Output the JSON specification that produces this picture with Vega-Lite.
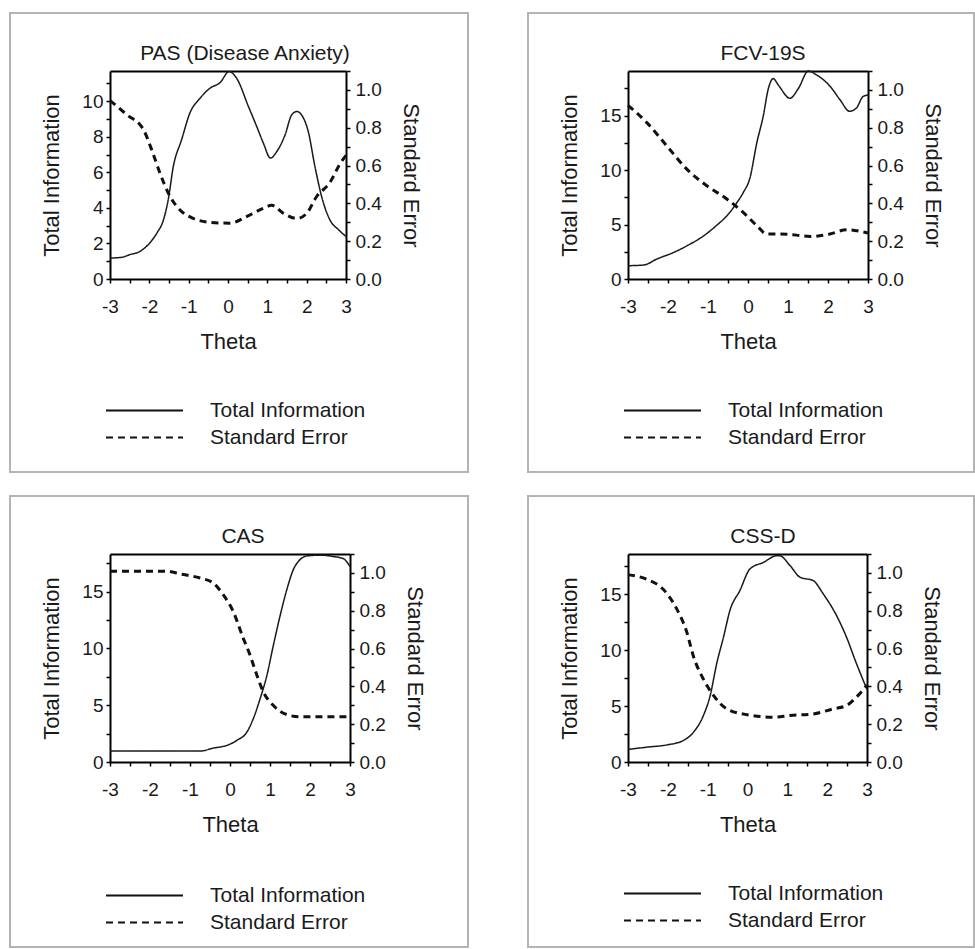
{
 "$schema": "https://vega.github.io/schema/vega-lite/v6.json",
 "padding": {"left": 9, "top": 12, "right": 0, "bottom": 0},
 "autosize": {"type": "pad"},
 "background": "white",
 "data": {"values": [
  {"panel":"PAS","series":"Total Information","theta":-3,"value":1.18},
  {"panel":"PAS","series":"Total Information","theta":-2.7,"value":1.22},
  {"panel":"PAS","series":"Total Information","theta":-2.5,"value":1.37},
  {"panel":"PAS","series":"Total Information","theta":-2.24,"value":1.55},
  {"panel":"PAS","series":"Total Information","theta":-2.03,"value":1.93},
  {"panel":"PAS","series":"Total Information","theta":-1.81,"value":2.58},
  {"panel":"PAS","series":"Total Information","theta":-1.64,"value":3.33},
  {"panel":"PAS","series":"Total Information","theta":-1.52,"value":4.46},
  {"panel":"PAS","series":"Total Information","theta":-1.39,"value":6.33},
  {"panel":"PAS","series":"Total Information","theta":-1.18,"value":7.83},
  {"panel":"PAS","series":"Total Information","theta":-0.97,"value":9.33},
  {"panel":"PAS","series":"Total Information","theta":-0.71,"value":10.17},
  {"panel":"PAS","series":"Total Information","theta":-0.46,"value":10.73},
  {"panel":"PAS","series":"Total Information","theta":-0.2,"value":11.05},
  {"panel":"PAS","series":"Total Information","theta":0.03,"value":11.67},
  {"panel":"PAS","series":"Total Information","theta":0.22,"value":11.29},
  {"panel":"PAS","series":"Total Information","theta":0.52,"value":9.7},
  {"panel":"PAS","series":"Total Information","theta":0.73,"value":8.58},
  {"panel":"PAS","series":"Total Information","theta":0.9,"value":7.64},
  {"panel":"PAS","series":"Total Information","theta":1.08,"value":6.8},
  {"panel":"PAS","series":"Total Information","theta":1.24,"value":7.17},
  {"panel":"PAS","series":"Total Information","theta":1.45,"value":8.1},
  {"panel":"PAS","series":"Total Information","theta":1.62,"value":9.23},
  {"panel":"PAS","series":"Total Information","theta":1.75,"value":9.42},
  {"panel":"PAS","series":"Total Information","theta":1.87,"value":9.23},
  {"panel":"PAS","series":"Total Information","theta":2.04,"value":8.3},
  {"panel":"PAS","series":"Total Information","theta":2.21,"value":6.33},
  {"panel":"PAS","series":"Total Information","theta":2.38,"value":4.64},
  {"panel":"PAS","series":"Total Information","theta":2.59,"value":3.33},
  {"panel":"PAS","series":"Total Information","theta":2.81,"value":2.77},
  {"panel":"PAS","series":"Total Information","theta":3,"value":2.4},
  {"panel":"PAS","series":"Standard Error","theta":-3,"value":0.944},
  {"panel":"PAS","series":"Standard Error","theta":-2.58,"value":0.87},
  {"panel":"PAS","series":"Standard Error","theta":-2.15,"value":0.79},
  {"panel":"PAS","series":"Standard Error","theta":-1.9,"value":0.66},
  {"panel":"PAS","series":"Standard Error","theta":-1.73,"value":0.56},
  {"panel":"PAS","series":"Standard Error","theta":-1.47,"value":0.435},
  {"panel":"PAS","series":"Standard Error","theta":-1.22,"value":0.365},
  {"panel":"PAS","series":"Standard Error","theta":-0.88,"value":0.32},
  {"panel":"PAS","series":"Standard Error","theta":-0.46,"value":0.3},
  {"panel":"PAS","series":"Standard Error","theta":0.05,"value":0.295},
  {"panel":"PAS","series":"Standard Error","theta":0.47,"value":0.33},
  {"panel":"PAS","series":"Standard Error","theta":0.9,"value":0.374},
  {"panel":"PAS","series":"Standard Error","theta":1.11,"value":0.39},
  {"panel":"PAS","series":"Standard Error","theta":1.41,"value":0.347},
  {"panel":"PAS","series":"Standard Error","theta":1.75,"value":0.32},
  {"panel":"PAS","series":"Standard Error","theta":2,"value":0.347},
  {"panel":"PAS","series":"Standard Error","theta":2.25,"value":0.435},
  {"panel":"PAS","series":"Standard Error","theta":2.59,"value":0.51},
  {"panel":"PAS","series":"Standard Error","theta":2.85,"value":0.61},
  {"panel":"PAS","series":"Standard Error","theta":3,"value":0.654},
  {"panel":"FCV","series":"Total Information","theta":-3,"value":1.22},
  {"panel":"FCV","series":"Total Information","theta":-2.61,"value":1.28},
  {"panel":"FCV","series":"Total Information","theta":-2.28,"value":1.83},
  {"panel":"FCV","series":"Total Information","theta":-1.86,"value":2.44},
  {"panel":"FCV","series":"Total Information","theta":-1.45,"value":3.2},
  {"panel":"FCV","series":"Total Information","theta":-1.11,"value":3.96},
  {"panel":"FCV","series":"Total Information","theta":-0.78,"value":4.94},
  {"panel":"FCV","series":"Total Information","theta":-0.53,"value":5.79},
  {"panel":"FCV","series":"Total Information","theta":-0.28,"value":7.0},
  {"panel":"FCV","series":"Total Information","theta":-0.12,"value":7.93},
  {"panel":"FCV","series":"Total Information","theta":0.05,"value":9.3},
  {"panel":"FCV","series":"Total Information","theta":0.22,"value":12.5},
  {"panel":"FCV","series":"Total Information","theta":0.38,"value":14.94},
  {"panel":"FCV","series":"Total Information","theta":0.51,"value":17.5},
  {"panel":"FCV","series":"Total Information","theta":0.63,"value":18.4},
  {"panel":"FCV","series":"Total Information","theta":0.76,"value":17.8},
  {"panel":"FCV","series":"Total Information","theta":1.05,"value":16.6},
  {"panel":"FCV","series":"Total Information","theta":1.26,"value":17.5},
  {"panel":"FCV","series":"Total Information","theta":1.51,"value":19.1},
  {"panel":"FCV","series":"Total Information","theta":1.71,"value":18.75},
  {"panel":"FCV","series":"Total Information","theta":2.05,"value":17.7},
  {"panel":"FCV","series":"Total Information","theta":2.3,"value":16.46},
  {"panel":"FCV","series":"Total Information","theta":2.54,"value":15.4},
  {"panel":"FCV","series":"Total Information","theta":2.71,"value":15.7},
  {"panel":"FCV","series":"Total Information","theta":2.88,"value":16.77},
  {"panel":"FCV","series":"Total Information","theta":3,"value":16.9},
  {"panel":"FCV","series":"Standard Error","theta":-3,"value":0.919},
  {"panel":"FCV","series":"Standard Error","theta":-2.53,"value":0.827},
  {"panel":"FCV","series":"Standard Error","theta":-2.03,"value":0.704},
  {"panel":"FCV","series":"Standard Error","theta":-1.53,"value":0.581},
  {"panel":"FCV","series":"Standard Error","theta":-1.03,"value":0.493},
  {"panel":"FCV","series":"Standard Error","theta":-0.53,"value":0.423},
  {"panel":"FCV","series":"Standard Error","theta":-0.12,"value":0.352},
  {"panel":"FCV","series":"Standard Error","theta":0.22,"value":0.282},
  {"panel":"FCV","series":"Standard Error","theta":0.47,"value":0.238},
  {"panel":"FCV","series":"Standard Error","theta":0.8,"value":0.238},
  {"panel":"FCV","series":"Standard Error","theta":1.21,"value":0.232},
  {"panel":"FCV","series":"Standard Error","theta":1.55,"value":0.225},
  {"panel":"FCV","series":"Standard Error","theta":2.05,"value":0.238},
  {"panel":"FCV","series":"Standard Error","theta":2.46,"value":0.26},
  {"panel":"FCV","series":"Standard Error","theta":3,"value":0.243},
  {"panel":"CAS","series":"Total Information","theta":-3,"value":0.96},
  {"panel":"CAS","series":"Total Information","theta":-2,"value":0.96},
  {"panel":"CAS","series":"Total Information","theta":-0.75,"value":0.96},
  {"panel":"CAS","series":"Total Information","theta":-0.42,"value":1.22},
  {"panel":"CAS","series":"Total Information","theta":-0.08,"value":1.46},
  {"panel":"CAS","series":"Total Information","theta":0.17,"value":1.9},
  {"panel":"CAS","series":"Total Information","theta":0.42,"value":2.62},
  {"panel":"CAS","series":"Total Information","theta":0.58,"value":3.79},
  {"panel":"CAS","series":"Total Information","theta":0.75,"value":5.54},
  {"panel":"CAS","series":"Total Information","theta":0.92,"value":7.58},
  {"panel":"CAS","series":"Total Information","theta":1.08,"value":10.2},
  {"panel":"CAS","series":"Total Information","theta":1.25,"value":12.83},
  {"panel":"CAS","series":"Total Information","theta":1.42,"value":15.16},
  {"panel":"CAS","series":"Total Information","theta":1.58,"value":16.9},
  {"panel":"CAS","series":"Total Information","theta":1.75,"value":17.8},
  {"panel":"CAS","series":"Total Information","theta":1.92,"value":18.13},
  {"panel":"CAS","series":"Total Information","theta":2.25,"value":18.2},
  {"panel":"CAS","series":"Total Information","theta":2.58,"value":18.08},
  {"panel":"CAS","series":"Total Information","theta":2.83,"value":17.9},
  {"panel":"CAS","series":"Total Information","theta":3,"value":17.2},
  {"panel":"CAS","series":"Standard Error","theta":-3,"value":1.009},
  {"panel":"CAS","series":"Standard Error","theta":-1.58,"value":1.009},
  {"panel":"CAS","series":"Standard Error","theta":-1.25,"value":0.995},
  {"panel":"CAS","series":"Standard Error","theta":-0.75,"value":0.973},
  {"panel":"CAS","series":"Standard Error","theta":-0.42,"value":0.947},
  {"panel":"CAS","series":"Standard Error","theta":-0.17,"value":0.885},
  {"panel":"CAS","series":"Standard Error","theta":0.08,"value":0.796},
  {"panel":"CAS","series":"Standard Error","theta":0.33,"value":0.655},
  {"panel":"CAS","series":"Standard Error","theta":0.5,"value":0.566},
  {"panel":"CAS","series":"Standard Error","theta":0.67,"value":0.46},
  {"panel":"CAS","series":"Standard Error","theta":0.83,"value":0.372},
  {"panel":"CAS","series":"Standard Error","theta":1.08,"value":0.3},
  {"panel":"CAS","series":"Standard Error","theta":1.42,"value":0.251},
  {"panel":"CAS","series":"Standard Error","theta":1.75,"value":0.239},
  {"panel":"CAS","series":"Standard Error","theta":3,"value":0.239},
  {"panel":"CSS","series":"Total Information","theta":-3,"value":1.12},
  {"panel":"CSS","series":"Total Information","theta":-2.52,"value":1.33},
  {"panel":"CSS","series":"Total Information","theta":-2.02,"value":1.53},
  {"panel":"CSS","series":"Total Information","theta":-1.61,"value":1.92},
  {"panel":"CSS","series":"Total Information","theta":-1.36,"value":2.65},
  {"panel":"CSS","series":"Total Information","theta":-1.11,"value":4.13},
  {"panel":"CSS","series":"Total Information","theta":-0.94,"value":5.9},
  {"panel":"CSS","series":"Total Information","theta":-0.77,"value":8.85},
  {"panel":"CSS","series":"Total Information","theta":-0.6,"value":11.2},
  {"panel":"CSS","series":"Total Information","theta":-0.44,"value":13.57},
  {"panel":"CSS","series":"Total Information","theta":-0.19,"value":15.34},
  {"panel":"CSS","series":"Total Information","theta":0.06,"value":17.26},
  {"panel":"CSS","series":"Total Information","theta":0.4,"value":17.85},
  {"panel":"CSS","series":"Total Information","theta":0.73,"value":18.44},
  {"panel":"CSS","series":"Total Information","theta":0.81,"value":18.44},
  {"panel":"CSS","series":"Total Information","theta":1.07,"value":17.55},
  {"panel":"CSS","series":"Total Information","theta":1.32,"value":16.52},
  {"panel":"CSS","series":"Total Information","theta":1.65,"value":16.22},
  {"panel":"CSS","series":"Total Information","theta":1.9,"value":15.04},
  {"panel":"CSS","series":"Total Information","theta":2.23,"value":13.13},
  {"panel":"CSS","series":"Total Information","theta":2.48,"value":11.21},
  {"panel":"CSS","series":"Total Information","theta":2.73,"value":8.85},
  {"panel":"CSS","series":"Total Information","theta":3,"value":6.49},
  {"panel":"CSS","series":"Standard Error","theta":-3,"value":0.991},
  {"panel":"CSS","series":"Standard Error","theta":-2.52,"value":0.965},
  {"panel":"CSS","series":"Standard Error","theta":-2.11,"value":0.912},
  {"panel":"CSS","series":"Standard Error","theta":-1.77,"value":0.807},
  {"panel":"CSS","series":"Standard Error","theta":-1.52,"value":0.684},
  {"panel":"CSS","series":"Standard Error","theta":-1.36,"value":0.561},
  {"panel":"CSS","series":"Standard Error","theta":-1.11,"value":0.439},
  {"panel":"CSS","series":"Standard Error","theta":-0.85,"value":0.351},
  {"panel":"CSS","series":"Standard Error","theta":-0.52,"value":0.281},
  {"panel":"CSS","series":"Standard Error","theta":0.02,"value":0.249},
  {"panel":"CSS","series":"Standard Error","theta":0.65,"value":0.237},
  {"panel":"CSS","series":"Standard Error","theta":1.07,"value":0.246},
  {"panel":"CSS","series":"Standard Error","theta":1.65,"value":0.254},
  {"panel":"CSS","series":"Standard Error","theta":2.15,"value":0.281},
  {"panel":"CSS","series":"Standard Error","theta":2.48,"value":0.298},
  {"panel":"CSS","series":"Standard Error","theta":2.73,"value":0.342},
  {"panel":"CSS","series":"Standard Error","theta":3,"value":0.407}
 ]},
 "spacing": 22,
 "resolve": {"scale": {"strokeDash": "independent"}, "legend": {"strokeDash": "independent"}},
 "vconcat": [
  {"spacing": 58,
   "resolve": {"scale": {"strokeDash": "independent"}, "legend": {"strokeDash": "independent"}},
   "hconcat": [
   {"width": 458, "height": 459,
    "view": {"stroke": "#b4b4b4", "strokeWidth": 2},
    "title": {"text": "PAS (Disease Anxiety)", "offset": -68, "dx": 6, "baseline": "alphabetic", "anchor": "middle", "frame": "group"},
    "transform": [{"filter": "datum.panel === 'PAS'"}],
    "layer": [
     {"transform": [{"filter": "datum.series === 'Total Information'"}],
      "mark": {"type": "line", "color": "#1a1a1a", "strokeWidth": 1.5, "interpolate": "monotone"},
      "encoding": {
       "x": {"field": "theta", "type": "quantitative", "scale": {"domain": [-3, 3], "range": [100, 336], "nice": false, "zero": false},
             "axis": {"orient": "bottom", "offset": -193, "title": "Theta", "values": [-3,-2.5,-2,-1.5,-1,-0.5,0,0.5,1,1.5,2,2.5,3], "labelExpr": "datum.value % 1 === 0 ? '' + datum.value : ''", "labelPadding": 14, "titlePadding": 15, "encode": {"ticks": {"update": {"y": {"value": -4}}}}}},
       "y": {"field": "value", "type": "quantitative", "scale": {"domain": [0, 11.7], "range": [266, 58], "nice": false},
             "axis": {"orient": "left", "offset": -100, "title": "Total Information", "values": [0,1,2,3,4,5,6,7,8,9,10,11], "labelExpr": "datum.value % 2 === 0 ? datum.label : ''", "labelPadding": 3, "titlePadding": 18, "encode": {"ticks": {"update": {"x": {"value": 4}}}}}},
       "strokeDash": {"field": "series", "type": "nominal", "scale": {"domain": ["Total Information", "Standard Error"], "range": [[1, 0], [7, 5]]},
             "legend": {"orient": "none", "legendX": 95, "legendY": 385, "title": null, "symbolType": "stroke", "symbolSize": 5929, "clipHeight": 25, "labelOffset": 26, "symbolStrokeColor": "#1a1a1a", "symbolStrokeWidth": 2}}
      }},
     {"transform": [{"filter": "datum.series === 'Standard Error'"}],
      "mark": {"type": "line", "color": "#111111", "strokeWidth": 3, "interpolate": "monotone"},
      "encoding": {
       "x": {"field": "theta", "type": "quantitative", "axis": {"orient": "top", "offset": -58, "labels": false, "ticks": false, "title": null}},
       "y": {"field": "value", "type": "quantitative", "scale": {"domain": [0, 1.1], "range": [266, 58], "nice": false},
             "axis": {"orient": "right", "offset": -122, "title": "Standard Error", "values": [0,0.1,0.2,0.3,0.4,0.5,0.6,0.7,0.8,0.9,1,1.1], "format": ".1f", "labelExpr": "(round(datum.value*10) % 2 === 0 && datum.value < 1.05) ? datum.label : ''", "labelPadding": 5, "titlePadding": 17, "encode": {"ticks": {"update": {"x": {"value": -4}}}}}},
       "strokeDash": {"field": "series", "type": "nominal"}
      }}
    ],
    "resolve": {"scale": {"y": "independent"}, "axis": {"x": "independent", "y": "independent"}}
   },
   {"width": 446, "height": 459,
    "view": {"stroke": "#b4b4b4", "strokeWidth": 2},
    "title": {"text": "FCV-19S", "offset": -68, "dx": 12, "baseline": "alphabetic", "anchor": "middle", "frame": "group"},
    "transform": [{"filter": "datum.panel === 'FCV'"}],
    "layer": [
     {"transform": [{"filter": "datum.series === 'Total Information'"}],
      "mark": {"type": "line", "color": "#1a1a1a", "strokeWidth": 1.5, "interpolate": "monotone"},
      "encoding": {
       "x": {"field": "theta", "type": "quantitative", "scale": {"domain": [-3, 3], "range": [100, 340], "nice": false, "zero": false},
             "axis": {"orient": "bottom", "offset": -193, "title": "Theta", "values": [-3,-2.5,-2,-1.5,-1,-0.5,0,0.5,1,1.5,2,2.5,3], "labelExpr": "datum.value % 1 === 0 ? '' + datum.value : ''", "labelPadding": 14, "titlePadding": 15, "encode": {"ticks": {"update": {"y": {"value": -4}}}}}},
       "y": {"field": "value", "type": "quantitative", "scale": {"domain": [0, 19.1], "range": [266, 58], "nice": false},
             "axis": {"orient": "left", "offset": -100, "title": "Total Information", "values": [0,2.5,5,7.5,10,12.5,15,17.5], "labelExpr": "datum.value % 5 === 0 ? datum.label : ''", "labelPadding": 3, "titlePadding": 18, "encode": {"ticks": {"update": {"x": {"value": 4}}}}}},
       "strokeDash": {"field": "series", "type": "nominal", "scale": {"domain": ["Total Information", "Standard Error"], "range": [[1, 0], [7, 5]]},
             "legend": {"orient": "none", "legendX": 95, "legendY": 385, "title": null, "symbolType": "stroke", "symbolSize": 5929, "clipHeight": 25, "labelOffset": 26, "symbolStrokeColor": "#1a1a1a", "symbolStrokeWidth": 2}}
      }},
     {"transform": [{"filter": "datum.series === 'Standard Error'"}],
      "mark": {"type": "line", "color": "#111111", "strokeWidth": 3, "interpolate": "monotone"},
      "encoding": {
       "x": {"field": "theta", "type": "quantitative", "axis": {"orient": "top", "offset": -58, "labels": false, "ticks": false, "title": null}},
       "y": {"field": "value", "type": "quantitative", "scale": {"domain": [0, 1.1], "range": [266, 58], "nice": false},
             "axis": {"orient": "right", "offset": -106, "title": "Standard Error", "values": [0,0.1,0.2,0.3,0.4,0.5,0.6,0.7,0.8,0.9,1,1.1], "format": ".1f", "labelExpr": "(round(datum.value*10) % 2 === 0 && datum.value < 1.05) ? datum.label : ''", "labelPadding": 5, "titlePadding": 17, "encode": {"ticks": {"update": {"x": {"value": -4}}}}}},
       "strokeDash": {"field": "series", "type": "nominal"}
      }}
    ],
    "resolve": {"scale": {"y": "independent"}, "axis": {"x": "independent", "y": "independent"}}
   }
  ]},
  {"spacing": 58,
   "resolve": {"scale": {"strokeDash": "independent"}, "legend": {"strokeDash": "independent"}},
   "hconcat": [
   {"width": 458, "height": 451,
    "view": {"stroke": "#b4b4b4", "strokeWidth": 2},
    "title": {"text": "CAS", "offset": -68, "dx": 4, "baseline": "alphabetic", "anchor": "middle", "frame": "group"},
    "transform": [{"filter": "datum.panel === 'CAS'"}],
    "layer": [
     {"transform": [{"filter": "datum.series === 'Total Information'"}],
      "mark": {"type": "line", "color": "#1a1a1a", "strokeWidth": 1.5, "interpolate": "monotone"},
      "encoding": {
       "x": {"field": "theta", "type": "quantitative", "scale": {"domain": [-3, 3], "range": [100, 340], "nice": false, "zero": false},
             "axis": {"orient": "bottom", "offset": -185, "title": "Theta", "values": [-3,-2.5,-2,-1.5,-1,-0.5,0,0.5,1,1.5,2,2.5,3], "labelExpr": "datum.value % 1 === 0 ? '' + datum.value : ''", "labelPadding": 14, "titlePadding": 15, "encode": {"ticks": {"update": {"y": {"value": -4}}}}}},
       "y": {"field": "value", "type": "quantitative", "scale": {"domain": [0, 18.3], "range": [266, 58], "nice": false},
             "axis": {"orient": "left", "offset": -100, "title": "Total Information", "values": [0,2.5,5,7.5,10,12.5,15,17.5], "labelExpr": "datum.value % 5 === 0 ? datum.label : ''", "labelPadding": 3, "titlePadding": 18, "encode": {"ticks": {"update": {"x": {"value": 4}}}}}},
       "strokeDash": {"field": "series", "type": "nominal", "scale": {"domain": ["Total Information", "Standard Error"], "range": [[1, 0], [7, 5]]},
             "legend": {"orient": "none", "legendX": 95, "legendY": 387, "title": null, "symbolType": "stroke", "symbolSize": 5929, "clipHeight": 25, "labelOffset": 26, "symbolStrokeColor": "#1a1a1a", "symbolStrokeWidth": 2}}
      }},
     {"transform": [{"filter": "datum.series === 'Standard Error'"}],
      "mark": {"type": "line", "color": "#111111", "strokeWidth": 3, "interpolate": "monotone"},
      "encoding": {
       "x": {"field": "theta", "type": "quantitative", "axis": {"orient": "top", "offset": -58, "labels": false, "ticks": false, "title": null}},
       "y": {"field": "value", "type": "quantitative", "scale": {"domain": [0, 1.1], "range": [266, 58], "nice": false},
             "axis": {"orient": "right", "offset": -118, "title": "Standard Error", "values": [0,0.1,0.2,0.3,0.4,0.5,0.6,0.7,0.8,0.9,1,1.1], "format": ".1f", "labelExpr": "(round(datum.value*10) % 2 === 0 && datum.value < 1.05) ? datum.label : ''", "labelPadding": 5, "titlePadding": 17, "encode": {"ticks": {"update": {"x": {"value": -4}}}}}},
       "strokeDash": {"field": "series", "type": "nominal"}
      }}
    ],
    "resolve": {"scale": {"y": "independent"}, "axis": {"x": "independent", "y": "independent"}}
   },
   {"width": 446, "height": 451,
    "view": {"stroke": "#b4b4b4", "strokeWidth": 2},
    "title": {"text": "CSS-D", "offset": -68, "dx": 12, "baseline": "alphabetic", "anchor": "middle", "frame": "group"},
    "transform": [{"filter": "datum.panel === 'CSS'"}],
    "layer": [
     {"transform": [{"filter": "datum.series === 'Total Information'"}],
      "mark": {"type": "line", "color": "#1a1a1a", "strokeWidth": 1.5, "interpolate": "monotone"},
      "encoding": {
       "x": {"field": "theta", "type": "quantitative", "scale": {"domain": [-3, 3], "range": [100, 339], "nice": false, "zero": false},
             "axis": {"orient": "bottom", "offset": -185, "title": "Theta", "values": [-3,-2.5,-2,-1.5,-1,-0.5,0,0.5,1,1.5,2,2.5,3], "labelExpr": "datum.value % 1 === 0 ? '' + datum.value : ''", "labelPadding": 14, "titlePadding": 15, "encode": {"ticks": {"update": {"y": {"value": -4}}}}}},
       "y": {"field": "value", "type": "quantitative", "scale": {"domain": [0, 18.6], "range": [266, 58], "nice": false},
             "axis": {"orient": "left", "offset": -100, "title": "Total Information", "values": [0,2.5,5,7.5,10,12.5,15,17.5], "labelExpr": "datum.value % 5 === 0 ? datum.label : ''", "labelPadding": 3, "titlePadding": 18, "encode": {"ticks": {"update": {"x": {"value": 4}}}}}},
       "strokeDash": {"field": "series", "type": "nominal", "scale": {"domain": ["Total Information", "Standard Error"], "range": [[1, 0], [7, 5]]},
             "legend": {"orient": "none", "legendX": 95, "legendY": 385, "title": null, "symbolType": "stroke", "symbolSize": 5929, "clipHeight": 25, "labelOffset": 26, "symbolStrokeColor": "#1a1a1a", "symbolStrokeWidth": 2}}
      }},
     {"transform": [{"filter": "datum.series === 'Standard Error'"}],
      "mark": {"type": "line", "color": "#111111", "strokeWidth": 3, "interpolate": "monotone"},
      "encoding": {
       "x": {"field": "theta", "type": "quantitative", "axis": {"orient": "top", "offset": -58, "labels": false, "ticks": false, "title": null}},
       "y": {"field": "value", "type": "quantitative", "scale": {"domain": [0, 1.1], "range": [266, 58], "nice": false},
             "axis": {"orient": "right", "offset": -107, "title": "Standard Error", "values": [0,0.1,0.2,0.3,0.4,0.5,0.6,0.7,0.8,0.9,1,1.1], "format": ".1f", "labelExpr": "(round(datum.value*10) % 2 === 0 && datum.value < 1.05) ? datum.label : ''", "labelPadding": 5, "titlePadding": 17, "encode": {"ticks": {"update": {"x": {"value": -4}}}}}},
       "strokeDash": {"field": "series", "type": "nominal"}
      }}
    ],
    "resolve": {"scale": {"y": "independent"}, "axis": {"x": "independent", "y": "independent"}}
   }
  ]}
 ],
 "config": {
  "font": "Liberation Sans",
  "axis": {"labelFont": "Liberation Sans", "labelFontSize": 19, "labelColor": "#1a1a1a", "titleFont": "Liberation Sans", "titleFontSize": 22, "titleFontWeight": "normal", "titleColor": "#1a1a1a", "domainColor": "#000000", "domainWidth": 2, "tickColor": "#000000", "tickWidth": 1.5, "tickSize": 4, "grid": false, "labelFlush": false, "labelOverlap": false, "labelBound": false},
  "legend": {"labelFont": "Liberation Sans", "labelFontSize": 21, "labelColor": "#1a1a1a", "labelLimit": 300},
  "title": {"font": "Liberation Sans", "fontSize": 21, "fontWeight": "normal", "color": "#1a1a1a"}
 }
}
